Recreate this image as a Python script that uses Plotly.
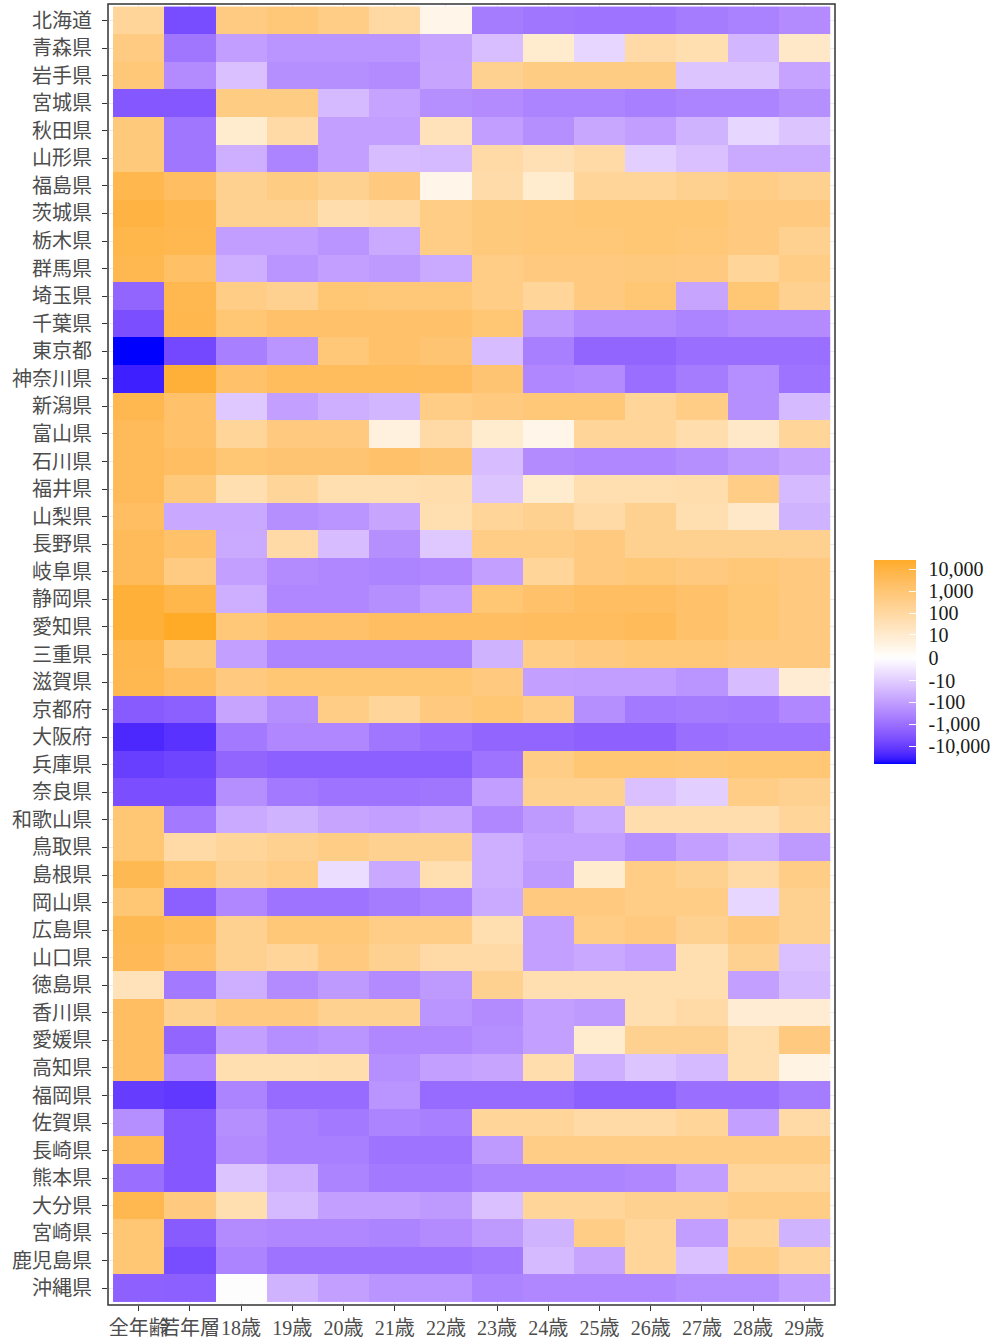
import numpy as np
import plotly.graph_objects as go

prefectures = ["北海道", "青森県", "岩手県", "宮城県", "秋田県", "山形県", "福島県", "茨城県", "栃木県", "群馬県",
               "埼玉県", "千葉県", "東京都", "神奈川県", "新潟県", "富山県", "石川県", "福井県", "山梨県", "長野県",
               "岐阜県", "静岡県", "愛知県", "三重県", "滋賀県", "京都府", "大阪府", "兵庫県", "奈良県", "和歌山県",
               "鳥取県", "島根県", "岡山県", "広島県", "山口県", "徳島県", "香川県", "愛媛県", "高知県", "福岡県",
               "佐賀県", "長崎県", "熊本県", "大分県", "宮崎県", "鹿児島県", "沖縄県"]
groups = ["全年齢", "若年層", "18歳", "19歳", "20歳", "21歳", "22歳", "23歳", "24歳", "25歳", "26歳", "27歳", "28歳", "29歳"]

# values per column (prefecture order above)
all_ages = [150, 500, 800, -3000, 700, 700, 6000, 10000, 7000, 5500, -1500, -4500, -60000, -30000, 5500, 3500, 3500,
            3500, 2500, 3500, 3500, 15000, 15000, 6000, 5500, -2500, -22000, -9000, -4500, 1000, 1000, 5000, 1000,
            5000, 4000, 30, 2500, 2500, 2500, -10000, -220, 3500, -1000, 5500, 1000, 1000, -1800]
young = [-5000, -700, -250, -3000, -700, -700, 2500, 6000, 5500, 2000, 5500, 6000, -6000, 15000, 1600, 1600, 2500, 700,
         -60, 1600, 500, 7000, 27000, 700, 2500, -2000, -15000, -7000, -4500, -600, 80, 1000, -2000, 3000, 1600, -600,
         250, -1500, -300, -12000, -3000, -3000, -3000, 550, -2500, -5000, -2000]
age18 = [500, -100, -18, 450, 10, -45, 250, 250, -100, -45, 400, 1000, -450, 1600, -12, 150, 1000, 50, -60, -55, -90,
         -45, 800, -90, 550, -70, -600, -1500, -200, -55, 150, 250, -300, 250, 250, -45, 550, -90, 50, -350, -200, -250,
         -15, 50, -250, -350, 0]
age19 = [800, -150, -200, 450, 80, -350, 450, 250, -100, -150, 250, 1600, -150, 3000, -90, 550, 1200, 150, -200, 80,
         -250, -300, 1600, -350, 1000, -200, -300, -2000, -600, -35, 250, 400, -800, 800, 150, -250, 550, -220, 50,
         -1200, -450, -450, -45, -25, -300, -800, -35]
age20 = [400, -150, -200, -25, -90, -90, 250, 60, -150, -90, 1000, 1600, 800, 3000, -45, 550, 1200, 50, -150, -22, -300,
         -300, 1600, -350, 1000, 400, -300, -2000, -800, -70, 400, -4, -800, 800, 550, -120, 250, -150, 60, -1200, -600,
         -450, -350, -90, -300, -800, -90]
age21 = [100, -150, -250, -80, -90, -22, 600, 80, -55, -120, 800, 1600, 1600, 3000, -30, 4, 1600, 50, -70, -200, -350,
         -200, 2500, -350, 1000, 150, -700, -2000, -800, -90, 250, -60, -500, 400, 250, -250, 250, -300, -220, -150,
         -350, -800, -600, -90, -350, -800, -150]
age22 = [2, -80, -70, -200, 30, -25, 2, 400, 400, -55, 800, 1600, 1200, 2800, 400, 80, 1200, 60, 50, -12, -300, -100,
         2500, -350, 1000, 550, -1000, -2000, -700, -70, 250, 50, -350, 400, 80, -120, -150, -300, -90, -1200, -450,
         -800, -600, -120, -250, -800, -150]
age23 = [-500, -20, 250, -250, -100, 80, 70, 700, 700, 400, 400, 1000, -22, 1200, 550, 10, -22, -15, 150, 400, -90,
         1000, 2500, -35, 550, 1000, -1500, -800, -100, -300, -45, -45, -55, 50, 80, 250, -250, -220, -70, -1200, 150,
         -120, -350, -18, -120, -600, -350]
age24 = [-700, 10, 450, -350, -200, 40, 10, 800, 800, 550, 150, -120, -450, -300, 800, 2, -250, 10, 250, 400, 150,
         1600, 2800, 400, -90, 400, -1500, 400, 250, -120, -90, -120, 550, -90, -90, 50, -90, -90, 60, -1200, 150, 400,
         -350, 150, -35, -25, -300]
age25 = [-800, -6, 450, -350, -65, 80, 150, 1000, 800, 550, 550, -250, -1500, -250, 800, 150, -300, 50, 80, 550, 550,
         2500, 2800, 550, -100, -200, -1800, 1000, 250, -55, -90, 10, 550, 400, -60, 50, -120, 10, -45, -2000, 80, 400,
         -350, 150, 400, -70, -300]
age26 = [-800, 80, 450, -450, -100, -9, 150, 1000, 1000, 650, 1000, -250, -1500, -1000, 150, 150, -300, 50, 250, 250,
         800, 2500, 3500, 800, -100, -600, -1800, 1000, -18, 60, -220, 400, 400, 550, -90, 50, 50, 250, -15, -2000, 80,
         400, -300, 250, 150, 150, -300]
age27 = [-500, 50, -15, -350, -35, -18, 250, 1000, 800, 550, -70, -350, -1000, -500, 400, 60, -200, 60, 50, 250, 550,
         1600, 1600, 800, -150, -500, -1000, 800, -9, 60, -90, 250, 400, 250, 50, 50, 80, 250, -25, -1000, 150, 400,
         -100, 250, -100, -18, -220]
age28 = [-400, -30, -15, -350, -6, -55, 400, 550, 550, 150, 1000, -250, -1000, -220, -200, 15, -120, 400, 15, 250, 800,
         1000, 1000, 550, -22, -600, -800, 1000, 400, 60, -45, 80, -6, 550, 250, -90, 8, 50, 50, -1000, -90, 400, 150,
         400, 150, 400, -220]
age29 = [-250, 15, -80, -200, -15, -55, 250, 550, 250, 400, 250, -250, -1000, -800, -25, 150, -70, -25, -35, 250, 550,
         550, 550, 550, 8, -300, -800, 1000, 250, 150, -120, 400, 250, 250, -18, -25, 8, 550, 3, -500, 80, 400, 150,
         400, -35, 150, -90]

columns = [all_ages, young, age18, age19, age20, age21, age22, age23, age24, age25, age26, age27, age28, age29]
raw = np.array(columns, dtype=float).T


def signed_log(v):
    return np.sign(v) * np.log10(1 + np.abs(v))


z = signed_log(raw)
zmin, zmax = z.min(), z.max()
M = max(abs(zmin), abs(zmax))


# Lab interpolation like ggplot2 scale_fill_gradient2(low="blue", mid="white", high="orange")
def to_lab(hexc):
    rgb = np.array([int(hexc[i:i + 2], 16) for i in (1, 3, 5)]) / 255
    lin = np.where(rgb <= 0.04045, rgb / 12.92, ((rgb + 0.055) / 1.055) ** 2.4)
    m = np.array([[0.4124, 0.3576, 0.1805], [0.2126, 0.7152, 0.0722], [0.0193, 0.1192, 0.9505]])
    xyz = m @ lin / np.array([0.95047, 1.0, 1.08883])
    f = np.where(xyz > 0.008856, np.cbrt(xyz), 7.787 * xyz + 16 / 116)
    return np.array([116 * f[1] - 16, 500 * (f[0] - f[1]), 200 * (f[1] - f[2])])


def from_lab(lab):
    fy = (lab[0] + 16) / 116
    fx = fy + lab[1] / 500
    fz = fy - lab[2] / 200
    f = np.array([fx, fy, fz])
    xyz = np.where(f ** 3 > 0.008856, f ** 3, (f - 16 / 116) / 7.787) * np.array([0.95047, 1.0, 1.08883])
    mi = np.array([[3.2406, -1.5372, -0.4986], [-0.9689, 1.8758, 0.0415], [0.0557, -0.2040, 1.0570]])
    lin = np.clip(mi @ xyz, 0, 1)
    rgb = np.where(lin <= 0.0031308, 12.92 * lin, 1.055 * lin ** (1 / 2.4) - 0.055)
    r, g, b = (np.clip(rgb, 0, 1) * 255).round().astype(int)
    return "#%02x%02x%02x" % (r, g, b)


low, mid, high = to_lab("#0000FF"), to_lab("#FFFFFF"), to_lab("#FFA500")
colorscale = []
for s in np.linspace(0, 1, 81):
    zz = zmin + s * (zmax - zmin)
    t = zz / M
    lab = mid + (high - mid) * t if t >= 0 else mid + (low - mid) * (-t)
    colorscale.append([float(s), from_lab(lab)])

tick_raw = [10000, 1000, 100, 10, 0, -10, -100, -1000, -10000]
tick_text = ["10,000", "1,000", "100", "10", "0", "-10", "-100", "-1,000", "-10,000"]
tick_vals = list(signed_log(np.array(tick_raw, dtype=float)))

FONT = "Liberation Serif, DejaVu Serif, Noto Sans CJK JP"
cb_common = dict(x=1.0536, xanchor="left", y=0.4945, yanchor="middle", thickness=42, len=204, lenmode="pixels",
                 xpad=0, ypad=0, outlinewidth=0, tickvals=tick_vals)

fig = go.Figure()
# labelled colorbar
fig.add_trace(go.Heatmap(
    z=z, x=groups, y=prefectures, zmin=zmin, zmax=zmax, colorscale=colorscale,
    colorbar=dict(**cb_common, ticktext=tick_text, ticks="outside", ticklen=9, tickcolor="rgba(0,0,0,0)",
                  tickfont=dict(family=FONT, size=20, color="#1a1a1a")),
))
# same tiles again; its colorbar only carries the white tick marks
fig.add_trace(go.Heatmap(
    z=z, x=groups, y=prefectures, zmin=zmin, zmax=zmax, colorscale=colorscale,
    colorbar=dict(**cb_common, ticks="inside", ticklen=7, tickcolor="white", tickwidth=1, showticklabels=False),
))

fig.update_layout(
    width=995, height=1339,
    margin=dict(l=108, r=160, t=4, b=34),
    paper_bgcolor="white", plot_bgcolor="white",
    font=dict(family=FONT),
    xaxis=dict(range=[-0.6, 13.6], tickangle=0, ticks="outside", ticklen=5, tickcolor="#333333", tickwidth=1.2,
               ticklabelstandoff=0, showgrid=True, gridcolor="#ebebeb",
               tickfont=dict(size=20, color="#4d4d4d"), automargin=False, zeroline=False),
    yaxis=dict(range=[46.6, -0.6], ticks="outside", ticklen=5, tickcolor="#333333", tickwidth=1.2,
               ticklabelstandoff=6, showgrid=True, gridcolor="#ebebeb",
               tickfont=dict(size=20, color="#4d4d4d"), automargin=False, zeroline=False),
    shapes=[dict(type="rect", xref="paper", yref="paper", x0=0, x1=1, y0=0, y1=1,
                 line=dict(color="#333333", width=1.5))],
)

fig.write_html("out.html", config={"displayModeBar": False},
               post_script="document.body.style.margin='0';")
